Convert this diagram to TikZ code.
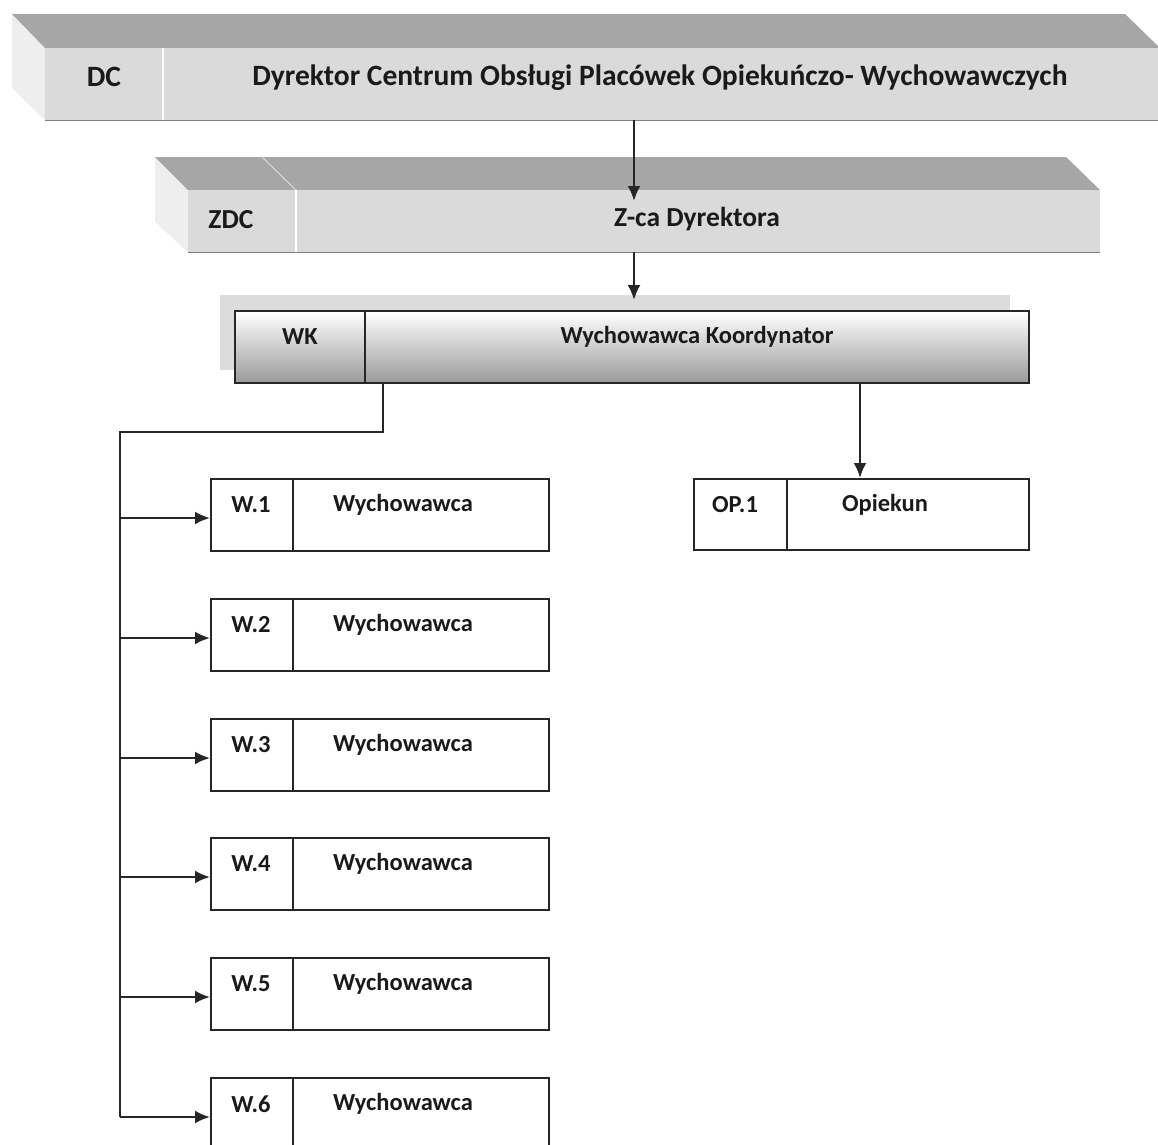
\documentclass[tikz,border=0pt]{standalone}
\usepackage{fontspec}
\setmainfont{Carlito}
\usetikzlibrary{arrows.meta}
\definecolor{topface}{HTML}{A6A6A6}
\definecolor{frontface}{HTML}{DADADA}
\definecolor{sideface}{HTML}{EEEEEE}
\definecolor{shadowgrey}{HTML}{DCDCDC}
\definecolor{ink}{HTML}{1A1A1A}
\begin{document}
\begin{tikzpicture}[x=1pt,y=-1pt,
  lbl/.style={font=\bfseries\fontsize{24.5}{28}\selectfont, text=ink, inner sep=0pt},
  midlbl/.style={font=\bfseries\fontsize{27.5}{30}\selectfont, text=ink, inner sep=0pt},
  biglbl/.style={font=\bfseries\fontsize{29.5}{32}\selectfont, text=ink, inner sep=0pt},
  cell/.style={draw=black!85, line width=2.4pt, fill=white, rectangle, inner sep=0pt, anchor=north west},
  face/.style={rectangle, inner sep=0pt, anchor=north west, fill=frontface},
  wire/.style={line width=2.4pt, draw=black!85, line join=miter},
  conn/.style={line width=2.4pt, draw=black!85, -{Latex[length=15pt,width=13pt]}}]
\useasboundingbox (0,0) rectangle (1158,1144);
\clip (0,0) rectangle (1158,1144);
\fill[white] (0,0) rectangle (1158,1144);

% ---------- DC (3D bar)
\fill[sideface] (12,14) -- (45,48) -- (45,120) -- (12,88) -- cycle;
\fill[topface] (12,14) -- (1125,14) -- (1160,48) -- (45,48) -- cycle;
\node[face, minimum width=1115pt, minimum height=72pt] (dc) at (45,48) {};
\draw[gray, line width=1.2pt] (dc.south west) -- (dc.south east);
\draw[white, line width=1.5pt] (163,48) -- (163,120);
\node[biglbl] (dccode) at (104,77) {DC};
\node[biglbl] (dcname) at (660,78) {Dyrektor Centrum Obsługi Placówek Opiekuńczo- Wychowawczych};

% ---------- ZDC (3D bar)
\fill[sideface] (155,157) -- (188,190) -- (188,252) -- (155,222) -- cycle;
\fill[topface] (155,157) -- (1066,157) -- (1100,190) -- (188,190) -- cycle;
\draw[white!85!black, line width=1pt] (262,157) -- (296,190);
\node[face, minimum width=912pt, minimum height=62pt] (zdc) at (188,190) {};
\draw[gray, line width=1.2pt] (zdc.south west) -- (zdc.south east);
\draw[white, line width=1.5pt] (296,190) -- (296,252);
\node[midlbl] (zdccode) at (231,220) {ZDC};
\node[midlbl] (zdcname) at (697,219) {Z-ca Dyrektora};

% ---------- WK
\node[rectangle, inner sep=0pt, anchor=north west, fill=shadowgrey, minimum width=790pt, minimum height=75pt] (wkshadow) at (220,295) {};
\node[cell, minimum width=794pt, minimum height=72pt, top color=white, middle color=white!92!black, bottom color=black!40] (wk) at (234,310) {};
\draw[wire] (365,310) -- (365,382);
\node[lbl] (wkcode) at (300,337) {WK};
\node[lbl] (wkname) at (697,337) {Wychowawca Koordynator};

% ---------- OP.1
\node[cell, minimum width=335pt, minimum height=71pt] (op) at (693,478) {};
\draw[wire] (787,478) -- (787,549);
\node[lbl] (opcode) at (735,505) {OP.1};
\node[lbl] (opname) at (885,505) {Opiekun};

% ---------- W boxes
\foreach \i/\t in {1/478,2/598,3/718,4/837,5/957,6/1077} {
  \node[cell, minimum width=338pt, minimum height=72pt] (w\i) at (210,\t) {};
  \draw[wire] (293,\t) -- (293,\t+72);
  \node[lbl] (w\i code) at (251,\t+27) {W.\i};
  \node[lbl] (w\i name) at (403,\t+27) {Wychowawca};
  \coordinate (t\i) at (120,\t+40);
}

% ---------- connectors
\coordinate (dcx) at (634,0);
\draw[conn] (dc.south -| dcx) -- ([yshift=-11pt]zdc.north -| dcx);
\draw[conn] (zdc.south -| dcx) -- ([yshift=-5pt]wkshadow.north -| dcx);
\coordinate (opx) at (860,0);
\draw[conn] (wk.south -| opx) -- (op.north -| opx);
\coordinate (wkdrop) at (383,382);
\coordinate (bend) at (120,432);
\draw[wire] (wkdrop) |- (bend) -- (t6);
\foreach \i in {1,...,6} {
  \draw[conn] (t\i) -- (t\i -| w\i.west);
}
\end{tikzpicture}
\end{document}
